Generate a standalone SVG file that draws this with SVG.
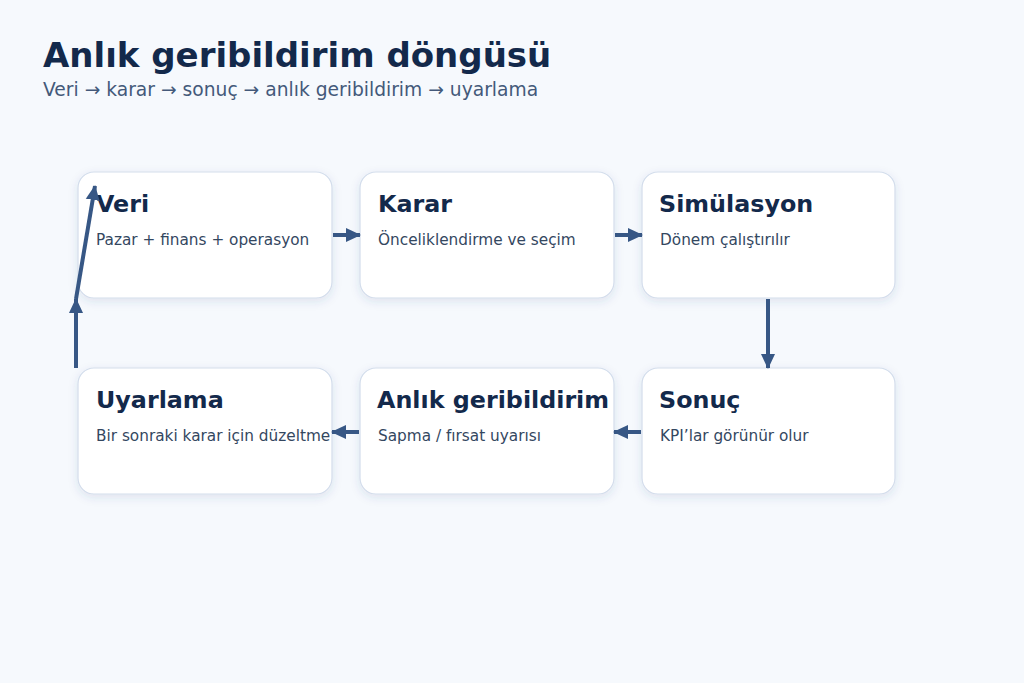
<svg xmlns="http://www.w3.org/2000/svg" width="1024" height="683" viewBox="0 0 1024 683">
<defs>
<style>
.card{fill:#ffffff;stroke:#d3ddec;stroke-width:1.2;filter:url(#sh)}
.t{font-family:"DejaVu Sans",sans-serif;font-weight:bold;font-size:23.8px;fill:#13294b}
.s{font-family:"DejaVu Sans",sans-serif;font-size:15.3px;fill:#34475f}
.c{stroke:#375785;stroke-width:4;fill:none;marker-end:url(#ah)}
</style>
<filter id="sh" x="-20%" y="-20%" width="140%" height="150%">
<feDropShadow dx="0" dy="3" stdDeviation="5" flood-color="#2a4a80" flood-opacity="0.12"/>
</filter>
<marker id="ah" markerUnits="userSpaceOnUse" markerWidth="16" markerHeight="16" viewBox="0 0 16 16" refX="14" refY="8" orient="auto">
<path d="M0,1 L15,8 L0,15 Z" fill="#375785"/>
</marker>
</defs>
<rect width="1024" height="683" fill="#f6f9fd"/>
<text x="43" y="67" font-family="'DejaVu Sans',sans-serif" font-weight="bold" font-size="34" fill="#13294b">Anlık geribildirim döngüsü</text>
<text x="43" y="96" font-family="'DejaVu Sans',sans-serif" font-size="18.7" fill="#44597a">Veri → karar → sonuç → anlık geribildirim → uyarlama</text>
<g id="n1"><rect class="card" x="78" y="172" width="254" height="126" rx="16"/><text class="t" x="96" y="212">Veri</text><text class="s" x="96" y="245">Pazar + finans + operasyon</text></g>
<g id="n2"><rect class="card" x="360" y="172" width="254" height="126" rx="16"/><text class="t" x="378" y="212">Karar</text><text class="s" x="378" y="245">Önceliklendirme ve seçim</text></g>
<g id="n3"><rect class="card" x="642" y="172" width="253" height="126" rx="16"/><text class="t" x="659" y="212">Simülasyon</text><text class="s" x="660" y="245">Dönem çalıştırılır</text></g>
<g id="n4"><rect class="card" x="642" y="368" width="253" height="126" rx="16"/><text class="t" x="659" y="408">Sonuç</text><text class="s" x="660" y="441">KPI’lar görünür olur</text></g>
<g id="n5"><rect class="card" x="360" y="368" width="254" height="126" rx="16"/><text class="t" x="377" y="408">Anlık geribildirim</text><text class="s" x="378" y="441">Sapma / fırsat uyarısı</text></g>
<g id="n6"><rect class="card" x="78" y="368" width="254" height="126" rx="16"/><text class="t" x="96" y="408">Uyarlama</text><text class="s" x="96" y="441">Bir sonraki karar için düzeltme</text></g>
<g id="connectors">
<line class="c" x1="333" y1="235" x2="360" y2="235"/>
<line class="c" x1="615" y1="235" x2="642" y2="235"/>
<line class="c" x1="768" y1="299" x2="768" y2="368"/>
<line class="c" x1="641" y1="432" x2="614" y2="432"/>
<line class="c" x1="359" y1="432" x2="332" y2="432"/>
<line class="c" x1="76" y1="368" x2="76" y2="299"/>
<line class="c" x1="76" y1="299" x2="95" y2="186"/>
</g>
</svg>
